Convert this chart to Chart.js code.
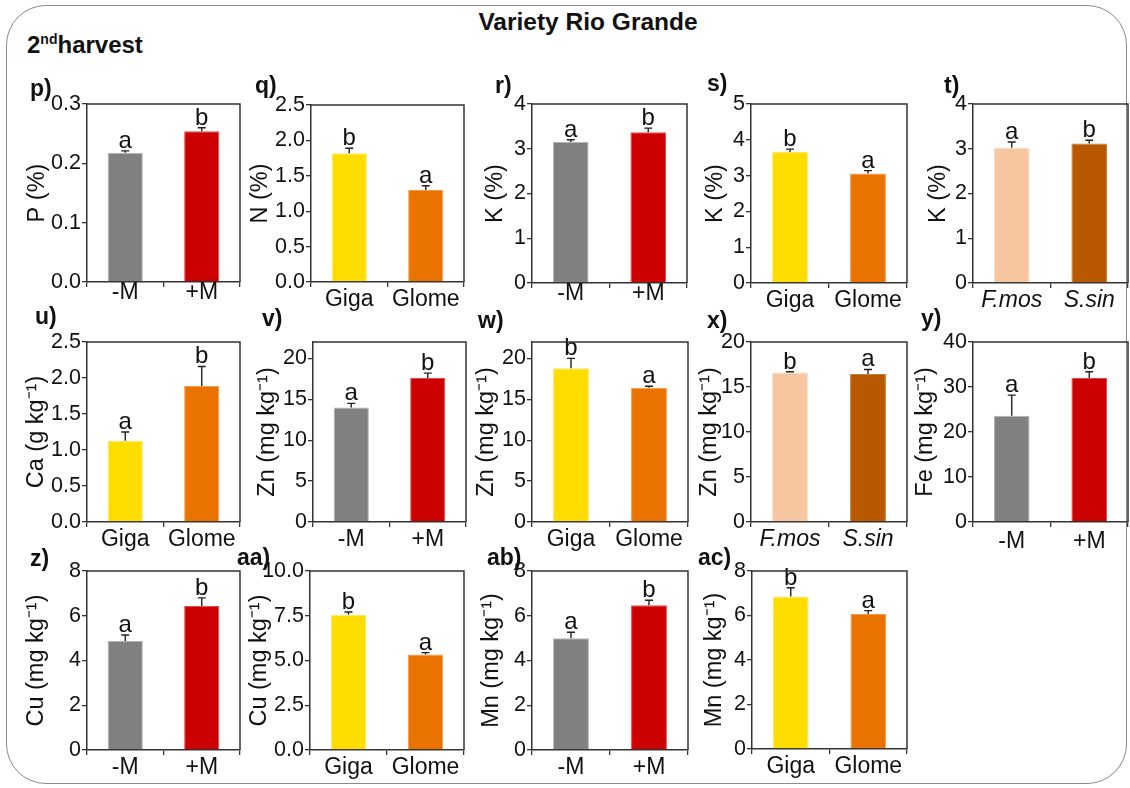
<!DOCTYPE html>
<html>
<head>
<meta charset="utf-8">
<script src="https://cdn.jsdelivr.net/npm/chart.js@4.4.1/dist/chart.umd.min.js"></script>
<style>
  html, body { margin:0; padding:0; background:#fff; width:1130px; height:788px; overflow:hidden; }
  #wrap { position:relative; width:1130px; height:788px; font-family:"Liberation Sans", Arial, sans-serif; color:#111; }
  #frame { position:absolute; left:6px; top:5px; width:1121px; height:779px; border:1.5px solid #8a8a8a; border-radius:40px; box-sizing:border-box; }
  .lbl { position:absolute; font-weight:bold; font-size:23px; line-height:26px; white-space:nowrap; }
  canvas { position:absolute; }
</style>
</head>
<body>
<div id="wrap">
  <div id="frame"></div>
  <div class="lbl" style="left:0;width:1176px;text-align:center;top:9px;font-size:24.5px;">Variety Rio Grande</div>
  <div class="lbl" style="left:27px;top:32px;font-size:24px;">2<sup style="font-size:14px;vertical-align:0;position:relative;top:-9px;">nd</sup>harvest</div>
</div>
<script>
// ---------- DATA ----------
// p) P (%)
const pCats = ['-M', '+M'];
const pVals = [0.218, 0.254];
const pErr  = [0.003, 0.006];
const pSig  = ['a', 'b'];
const pTicks = ['0.0', '0.1', '0.2', '0.3'];
// q) N (%)
const qCats = ['Giga', 'Glome'];
const qVals = [1.82, 1.30];
const qErr  = [0.07, 0.06];
const qSig  = ['b', 'a'];
const qTicks = ['0.0', '0.5', '1.0', '1.5', '2.0', '2.5'];
// r) K (%)
const rCats = ['-M', '+M'];
const rVals = [3.15, 3.37];
const rErr  = [0.05, 0.09];
const rSig  = ['a', 'b'];
const rTicks = ['0', '1', '2', '3', '4'];
// s) K (%)
const sCats = ['Giga', 'Glome'];
const sVals = [3.66, 3.06];
const sErr  = [0.08, 0.08];
const sSig  = ['b', 'a'];
const sTicks = ['0', '1', '2', '3', '4', '5'];
// t) K (%)
const tCats = ['F.mos', 'S.sin'];
const tVals = [3.02, 3.12];
const tErr  = [0.13, 0.07];
const tSig  = ['a', 'b'];
const tTicks = ['0', '1', '2', '3', '4'];
// u) Ca (g kg-1)
const uCats = ['Giga', 'Glome'];
const uVals = [1.13, 1.89];
const uErr  = [0.12, 0.27];
const uSig  = ['a', 'b'];
const uTicks = ['0.0', '0.5', '1.0', '1.5', '2.0', '2.5'];
// v) Zn (mg kg-1)
const vCats = ['-M', '+M'];
const vVals = [14.0, 17.6];
const vErr  = [0.5, 0.6];
const vSig  = ['a', 'b'];
const vTicks = ['0', '5', '10', '15', '20'];
// w) Zn (mg kg-1)
const wCats = ['Giga', 'Glome'];
const wVals = [18.8, 16.4];
const wErr  = [1.2, 0.2];
const wSig  = ['b', 'a'];
const wTicks = ['0', '5', '10', '15', '20'];
// x) Zn (mg kg-1)
const xCats = ['F.mos', 'S.sin'];
const xVals = [16.6, 16.45];
const xErr  = [0.1, 0.5];
const xSig  = ['b', 'a'];
const xTicks = ['0', '5', '10', '15', '20'];
// y) Fe (mg kg-1)
const yCats = ['-M', '+M'];
const yVals = [23.6, 32.0];
const yErr  = [4.6, 1.4];
const ySig  = ['a', 'b'];
const yTicks = ['0', '10', '20', '30', '40'];
// z) Cu (mg kg-1)
const zCats = ['-M', '+M'];
const zVals = [4.87, 6.44];
const zErr  = [0.27, 0.36];
const zSig  = ['a', 'b'];
const zTicks = ['0', '2', '4', '6', '8'];
// aa) Cu (mg kg-1)
const aaCats = ['Giga', 'Glome'];
const aaVals = [7.55, 5.33];
const aaErr  = [0.16, 0.11];
const aaSig  = ['b', 'a'];
const aaTicks = ['0.0', '2.5', '5.0', '7.5', '10.0'];
// ab) Mn (mg kg-1)
const abCats = ['-M', '+M'];
const abVals = [5.0, 6.47];
const abErr  = [0.26, 0.22];
const abSig  = ['a', 'b'];
const abTicks = ['0', '2', '4', '6', '8'];
// ac) Mn (mg kg-1)
const acCats = ['Giga', 'Glome'];
const acVals = [6.85, 6.07];
const acErr  = [0.40, 0.15];
const acSig  = ['b', 'a'];
const acTicks = ['0', '2', '4', '6', '8'];

// ---------- STYLE ----------
const fill   = { '-M':'#808080', '+M':'#cc0000', 'Giga':'#ffdd00', 'Glome':'#ea7300', 'F.mos':'#f6c6a0', 'S.sin':'#b85800' };
const edge   = { '-M':'#b4b4b4', '+M':'#e24a4a', 'Giga':'#ffe766', 'Glome':'#f49a50', 'F.mos':'#fbdcc4', 'S.sin':'#c97a33' };
const FONT = '"Liberation Sans", Arial, sans-serif';
const TICK_SIZE = 21.5, XLAB_SIZE = 23, TITLE_SIZE = 23.5, SIG_SIZE = 24;
Chart.defaults.font.family = FONT;
Chart.defaults.color = '#111';

const panels = [
  { id:'p)',  cats:pCats,  vals:pVals,  err:pErr,  sig:pSig,  ticks:pTicks,  title:'P (%)',          box:[87,104,240,282],  d:49, xpad:-8, lab:[30,88] },
  { id:'q)',  cats:qCats,  vals:qVals,  err:qErr,  sig:qSig,  ticks:qTicks,  title:'N (%)',          box:[311,105,464,282], d:50, xpad:-1, lab:[255,85] },
  { id:'r)',  cats:rCats,  vals:rVals,  err:rErr,  sig:rSig,  ticks:rTicks,  title:'K (%)',          box:[532,104,687,283], d:36, xpad:-8, lab:[495,85] },
  { id:'s)',  cats:sCats,  vals:sVals,  err:sErr,  sig:sSig,  ticks:sTicks,  title:'K (%)',          box:[751,104,907,283], d:35, xpad:-1, lab:[707,83] },
  { id:'t)',  cats:tCats,  vals:tVals,  err:tErr,  sig:tSig,  ticks:tTicks,  title:'K (%)',          box:[973,104,1128,283],d:34, xpad:-1, lab:[944,85], italic:true },
  { id:'u)',  cats:uCats,  vals:uVals,  err:uErr,  sig:uSig,  ticks:uTicks,  title:'Ca (g kg\u207B\u00B9)', box:[87,342,240,522],  d:50, xpad:-1, lab:[35,316] },
  { id:'v)',  cats:vCats,  vals:vVals,  err:vErr,  sig:vSig,  ticks:vTicks,  title:'Zn (mg kg\u207B\u00B9)',box:[313,342,466,522], d:45, xpad:-1, lab:[262,318], max:22 },
  { id:'w)',  cats:wCats,  vals:wVals,  err:wErr,  sig:wSig,  ticks:wTicks,  title:'Zn (mg kg\u207B\u00B9)',box:[532,342,688,522], d:45, xpad:-1, lab:[478,320], max:22 },
  { id:'x)',  cats:xCats,  vals:xVals,  err:xErr,  sig:xSig,  ticks:xTicks,  title:'Zn (mg kg\u207B\u00B9)',box:[751,342,907,522], d:41, xpad:-1, lab:[707,320], italic:true },
  { id:'y)',  cats:yCats,  vals:yVals,  err:yErr,  sig:ySig,  ticks:yTicks,  title:'Fe (mg kg\u207B\u00B9)',box:[973,342,1128,522],d:47, xpad:1, lab:[921,318] },
  { id:'z)',  cats:zCats,  vals:zVals,  err:zErr,  sig:zSig,  ticks:zTicks,  title:'Cu (mg kg\u207B\u00B9)',box:[87,571,240,750],  d:50, xpad:-1, lab:[30,558] },
  { id:'aa)', cats:aaCats, vals:aaVals, err:aaErr, sig:aaSig, ticks:aaTicks, title:'Cu (mg kg\u207B\u00B9)',box:[310,571,464,750], d:50, xpad:-1, lab:[237,557] },
  { id:'ab)', cats:abCats, vals:abVals, err:abErr, sig:abSig, ticks:abTicks, title:'Mn (mg kg\u207B\u00B9)',box:[532,571,688,750], d:40, xpad:-1, lab:[487,557] },
  { id:'ac)', cats:acCats, vals:acVals, err:acErr, sig:acSig, ticks:acTicks, title:'Mn (mg kg\u207B\u00B9)',box:[752,571,907,749], d:37, xpad:-1, lab:[698,557] },
];

const extras = {
  id: 'extras',
  afterDatasetsDraw(chart, args, o) {
    const { ctx, chartArea: a } = chart;
    const ys = chart.scales.y;
    const meta = chart.getDatasetMeta(0);
    ctx.save();
    ctx.strokeStyle = '#222';
    ctx.lineWidth = 1.4;
    o.vals.forEach((v, i) => {
      const x = meta.data[i].x;
      const y0 = ys.getPixelForValue(v);
      const y1 = ys.getPixelForValue(v + o.err[i]);
      ctx.beginPath();
      ctx.moveTo(x, y0); ctx.lineTo(x, y1);
      ctx.moveTo(x - 4, y1); ctx.lineTo(x + 4, y1);
      ctx.stroke();
      ctx.fillStyle = '#111';
      ctx.font = SIG_SIZE + 'px ' + FONT;
      ctx.textAlign = 'center';
      ctx.textBaseline = 'alphabetic';
      ctx.fillText(o.sig[i], x, y1 - 3);
    });
    ctx.strokeStyle = '#333';
    ctx.lineWidth = 1.5;
    ctx.beginPath();
    ctx.moveTo(a.left, a.top); ctx.lineTo(a.right, a.top); ctx.lineTo(a.right, a.bottom);
    ctx.stroke();
    ctx.restore();
  }
};

const wrap = document.getElementById('wrap');
const YW = 95, TOP = 24, RIGHT = 10, XH = 42;

panels.forEach(P => {
  const [l, t, r, b] = P.box;
  const cw = YW + (r - l) + RIGHT;
  const ch = TOP + (b - t) + XH;
  const cv = document.createElement('canvas');
  cv.width = cw; cv.height = ch;
  cv.style.left = (l - YW) + 'px';
  cv.style.top = (t - TOP) + 'px';
  cv.style.width = cw + 'px'; cv.style.height = ch + 'px';
  wrap.appendChild(cv);

  const lab = document.createElement('div');
  lab.className = 'lbl';
  lab.textContent = P.id;
  lab.style.left = P.lab[0] + 'px';
  lab.style.top = (P.lab[1] - 13) + 'px';
  wrap.appendChild(lab);

  const tickNums = P.ticks.map(Number);
  new Chart(cv, {
    type: 'bar',
    data: {
      labels: P.cats,
      datasets: [{
        data: P.vals,
        backgroundColor: P.cats.map(c => fill[c]),
        borderColor: P.cats.map(c => edge[c]),
        borderWidth: 1,
        categoryPercentage: 1,
        barPercentage: 0.46
      }]
    },
    options: {
      responsive: false,
      animation: false,
      devicePixelRatio: 1,
      layout: { padding: { left: 0, top: TOP, right: RIGHT, bottom: 0 } },
      plugins: {
        legend: { display: false },
        tooltip: { enabled: false },
        extras: { vals: P.vals, err: P.err, sig: P.sig }
      },
      scales: {
        x: {
          offset: true,
          afterFit: s => { s.height = XH; },
          grid: { offset: true, drawOnChartArea: false, drawTicks: true, tickLength: 5, color: '#333', lineWidth: 1.3 },
          border: { display: true, color: '#333', width: 1.5 },
          ticks: { color: '#111', padding: P.xpad, maxRotation: 0,
                   font: { size: XLAB_SIZE, style: P.italic ? 'italic' : 'normal' } }
        },
        y: {
          min: 0,
          max: P.max !== undefined ? P.max : tickNums[tickNums.length - 1],
          afterFit: s => { s.width = YW; },
          afterBuildTicks: s => { s.ticks = tickNums.map(v => ({ value: v })); },
          grid: { drawOnChartArea: false, drawTicks: true, tickLength: 5, color: '#333', lineWidth: 1.3 },
          border: { display: true, color: '#333', width: 1.5 },
          ticks: { color: '#111', padding: 1, font: { size: TICK_SIZE },
                   callback: (v, i) => P.ticks[i] },
          title: { display: true, text: P.title, color: '#111', font: { size: TITLE_SIZE },
                   padding: { top: YW - P.d - TITLE_SIZE * 0.6, bottom: 0 } }
        }
      }
    },
    plugins: [extras]
  });
});
</script>
</body>
</html>
